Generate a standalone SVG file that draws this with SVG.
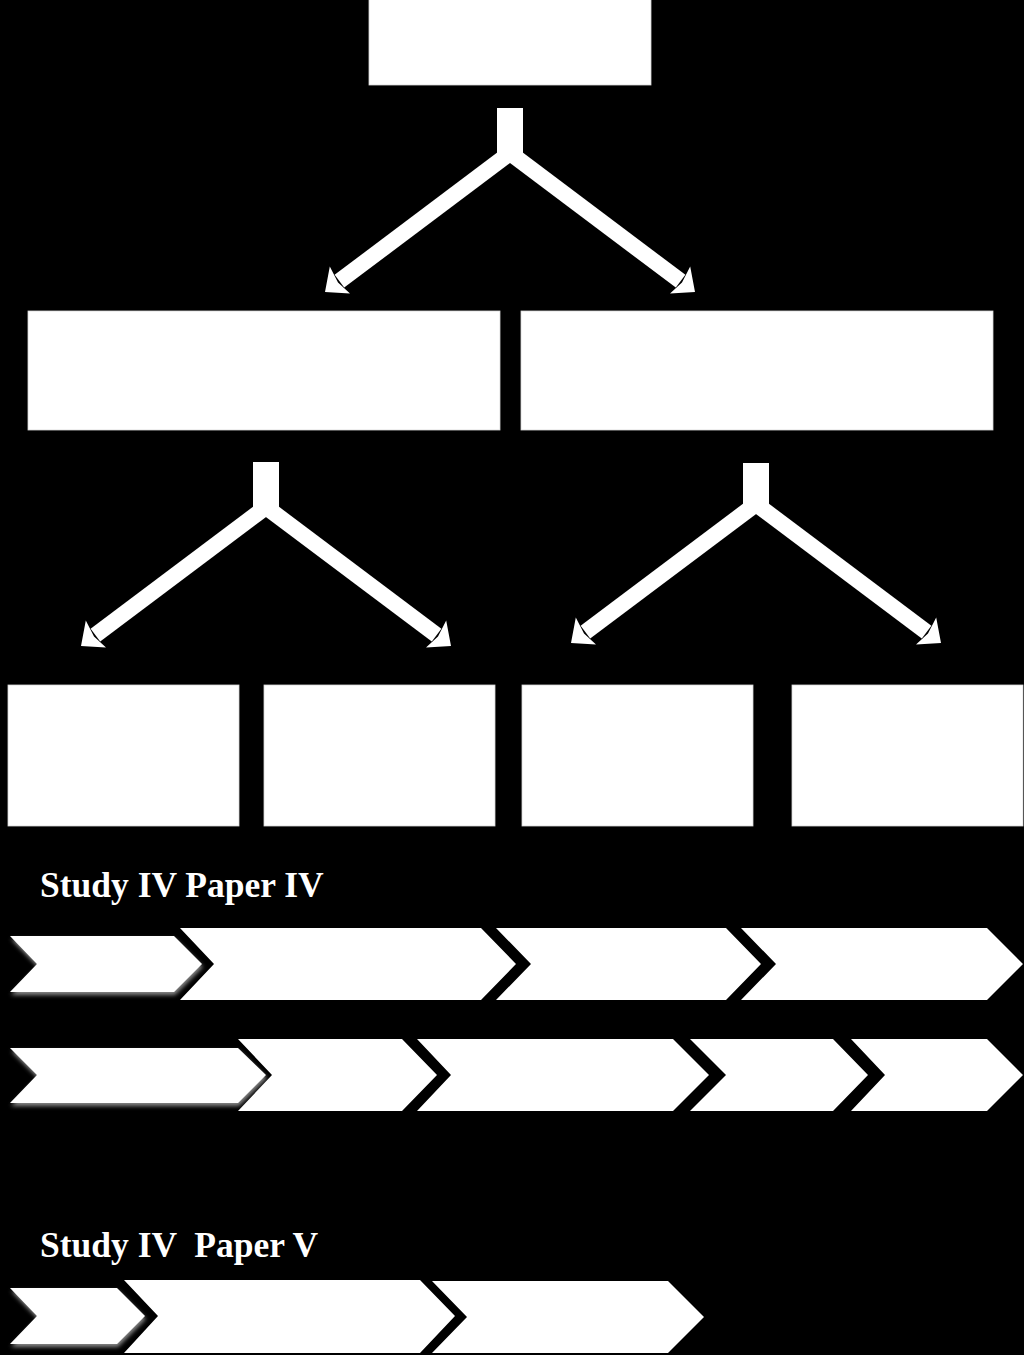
<svg xmlns="http://www.w3.org/2000/svg" xmlns:xlink="http://www.w3.org/1999/xlink" width="1024" height="1355" viewBox="0 0 1024 1355">
<style>
.box{fill:#ffffff;stroke:#d8d8d8;stroke-width:0.8}
.chev{fill:#ffffff}
.arm{stroke:#ffffff;stroke-width:16;stroke-linecap:butt;fill:none}
.head,.stem{fill:#ffffff}
.label{font-family:"Liberation Serif","Times New Roman",serif;font-weight:bold;font-size:35.5px;fill:#ffffff;white-space:pre}
</style>
<defs>
<filter id="glow" x="-10%" y="-30%" width="120%" height="160%">
<feGaussianBlur in="SourceAlpha" stdDeviation="2"/>
<feOffset dx="1" dy="3" result="b"/>
<feFlood flood-color="#8a8a8a"/>
<feComposite in2="b" operator="in" result="s"/>
<feMerge><feMergeNode in="s"/><feMergeNode in="SourceGraphic"/></feMerge>
</filter>
<g id="fork">
<line class="arm" x1="0" y1="0" x2="-170.6" y2="128.2"/>
<line class="arm" x1="0" y1="0" x2="170.6" y2="128.2"/>
<polygon class="head" points="-185,139 -160,140.6 -172,129.6 -180.2,113.6"/>
<polygon class="head" points="185,139 160,140.6 172,129.6 180.2,113.6"/>
</g>
</defs>
<rect x="0" y="0" width="1024" height="1355" fill="#000000"/>

<g id="connectors">
<g id="fork-top">
<rect class="stem" x="497" y="108" width="26" height="46"/>
<use xlink:href="#fork" href="#fork" transform="translate(510,153)"/>
</g>
<g id="fork-left">
<rect class="stem" x="253" y="462" width="26" height="46"/>
<use xlink:href="#fork" href="#fork" transform="translate(266,507)"/>
</g>
<g id="fork-right">
<rect class="stem" x="743" y="463" width="26" height="42"/>
<use xlink:href="#fork" href="#fork" transform="translate(756,504)"/>
</g>
</g>

<g id="node-top"><rect class="box" x="369" y="-1" width="282" height="86"/></g>
<g id="node-l2-left"><rect class="box" x="28" y="311" width="472" height="119"/></g>
<g id="node-l2-right"><rect class="box" x="521" y="311" width="472" height="119"/></g>
<g id="node-l3-1"><rect class="box" x="8" y="685" width="231" height="141"/></g>
<g id="node-l3-2"><rect class="box" x="264" y="685" width="231" height="141"/></g>
<g id="node-l3-3"><rect class="box" x="522" y="685" width="231" height="141"/></g>
<g id="node-l3-4"><rect class="box" x="792" y="685" width="231" height="141"/></g>

<g id="label-paper4"><text class="label" x="40" y="897">Study IV Paper IV</text></g>

<g id="row1">
<polygon class="chev" filter="url(#glow)" points="10,936 174,936 202,964 174,992 10,992 37,964"/>
<polygon class="chev" points="180,928 481,928 516,964 481,1000 180,1000 214,964"/>
<polygon class="chev" points="496,928 726,928 761,964 726,1000 496,1000 531,964"/>
<polygon class="chev" points="741,928 987,928 1023,964 987,1000 741,1000 776,964"/>
</g>

<g id="row2">
<polygon class="chev" filter="url(#glow)" points="10,1048 238,1048 266,1075 238,1103 10,1103 37,1075"/>
<polygon class="chev" points="238,1039 402,1039 437,1075 402,1111 238,1111 272,1075"/>
<polygon class="chev" points="417,1039 673,1039 709,1075 673,1111 417,1111 451,1075"/>
<polygon class="chev" points="690,1039 833,1039 868,1075 833,1111 690,1111 726,1075"/>
<polygon class="chev" points="851,1039 987,1039 1023,1075 987,1111 851,1111 885,1075"/>
</g>

<g id="label-paper5"><text class="label" x="40" y="1257" xml:space="preserve">Study IV  Paper V</text></g>

<g id="row3">
<polygon class="chev" filter="url(#glow)" points="10,1288 117,1288 145,1316 117,1344 10,1344 37,1316"/>
<polygon class="chev" points="124,1280 420,1280 455,1316 420,1353 124,1353 158,1316"/>
<polygon class="chev" points="432,1281 668,1281 704,1317 668,1353 432,1353 467,1317"/>
</g>
</svg>
